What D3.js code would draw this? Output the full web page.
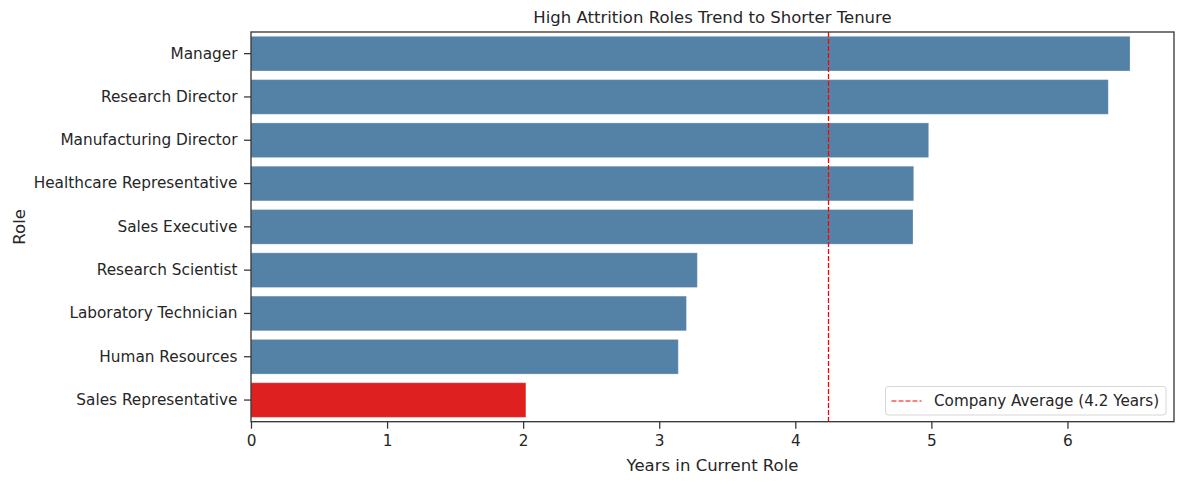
<!DOCTYPE html>
<html>
<head>
<meta charset="utf-8">
<script src="https://cdn.jsdelivr.net/npm/d3@7"></script>
<style>
  body { margin: 0; background: #fff; }
  text { font-family: "DejaVu Sans", sans-serif; fill: #262626; }
</style>
</head>
<body>
<script>
// chart data
var roles = ["Manager", "Research Director", "Manufacturing Director", "Healthcare Representative",
  "Sales Executive", "Research Scientist", "Laboratory Technician", "Human Resources", "Sales Representative"]
var tenure = [6.46, 6.30, 4.98, 4.87, 4.865, 3.28, 3.20, 3.14, 2.02]
var highlight = ["Sales Representative"]
var companyAvg = 4.237
var xTicks = [0, 1, 2, 3, 4, 5, 6]

var W = 1184, H = 484
var margin = {top: 32, right: 10, bottom: 62, left: 251}
  , width = 1174 - margin.left
  , height = 421.7 - margin.top;

var data = roles.map(function(r, i) { return {role: r, value: tenure[i]} })

var svg = d3.select("body").append("svg")
    .attr("width", W)
    .attr("height", H)

var g = svg.append("g")
    .attr("transform", "translate(" + margin.left + "," + margin.top + ")")

var xScale = d3.scaleLinear()
    .domain([0, d3.max(tenure) * 1.05])
    .range([0, width])

var yScale = d3.scaleBand()
    .domain(roles)
    .range([0, height])
    .paddingInner(0.2)
    .paddingOuter(0.1)

// bars
g.selectAll(".bar")
  .data(data)
  .enter()
  .append("rect")
    .attr("class", "bar")
    .attr("x", xScale(0))
    .attr("y", function(d) { return yScale(d.role) })
    .attr("width", function(d) { return xScale(d.value) - xScale(0) })
    .attr("height", yScale.bandwidth())
    .attr("fill", function(d) { return highlight.includes(d.role) ? "#df2020" : "#5481a6" })
    .attr("stroke", "#ffffff")
    .attr("stroke-opacity", 0.25)
    .attr("stroke-width", 1)

// company average line
var avgX = Math.round(xScale(companyAvg)) + 0.5
g.append("line")
    .attr("x1", avgX)
    .attr("x2", avgX)
    .attr("y1", 0)
    .attr("y2", height)
    .attr("stroke", "#ff0000")
    .attr("stroke-width", 1.3)
    .attr("stroke-dasharray", "5,2")

// axes
var xAxis = g.append("g")
    .attr("transform", "translate(0," + height + ")")
    .call(d3.axisBottom(xScale).tickValues(xTicks).tickFormat(d3.format("d")).tickSize(7).tickPadding(6))

var yAxis = g.append("g")
    .call(d3.axisLeft(yScale).tickSize(7).tickPadding(6.5))

;[xAxis, yAxis].forEach(function(a) {
  a.select(".domain").remove()
  a.selectAll("line").attr("stroke", "#333").attr("stroke-width", 1.25)
  a.selectAll("text").style("font-size", "15.3px").attr("fill", "#262626")
    .style("font-family", "'DejaVu Sans', sans-serif")
})

// frame
g.append("rect")
    .attr("x", 0)
    .attr("y", 0)
    .attr("width", width)
    .attr("height", height)
    .attr("fill", "none")
    .attr("stroke", "#333")
    .attr("stroke-width", 1.3)

// titles
svg.append("text")
    .attr("x", margin.left + width / 2)
    .attr("y", 23)
    .attr("text-anchor", "middle")
    .style("font-size", "16.5px")
    .text("High Attrition Roles Trend to Shorter Tenure")

svg.append("text")
    .attr("x", margin.left + width / 2)
    .attr("y", 471)
    .attr("text-anchor", "middle")
    .style("font-size", "16.5px")
    .text("Years in Current Role")

svg.append("text")
    .attr("transform", "translate(25," + (margin.top + height / 2) + ")rotate(-90)")
    .attr("text-anchor", "middle")
    .style("font-size", "16.5px")
    .text("Role")

// legend
var leg = svg.append("g").attr("transform", "translate(885.5,386.5)")
leg.append("rect")
    .attr("width", 280.5)
    .attr("height", 28.5)
    .attr("rx", 3)
    .attr("fill", "#fff")
    .attr("fill-opacity", 0.8)
    .attr("stroke", "#d6d6d6")
    .attr("stroke-width", 1)
leg.append("line")
    .attr("x1", 6)
    .attr("x2", 36)
    .attr("y1", 14.5)
    .attr("y2", 14.5)
    .attr("stroke", "#ff0000")
    .attr("stroke-width", 1.2)
    .attr("stroke-dasharray", "5,2")
leg.append("text")
    .attr("x", 48.5)
    .attr("y", 14)
    .attr("dy", "0.35em")
    .style("font-size", "15.2px")
    .text("Company Average (" + d3.format(".1f")(companyAvg) + " Years)")
</script>
</body>
</html>
